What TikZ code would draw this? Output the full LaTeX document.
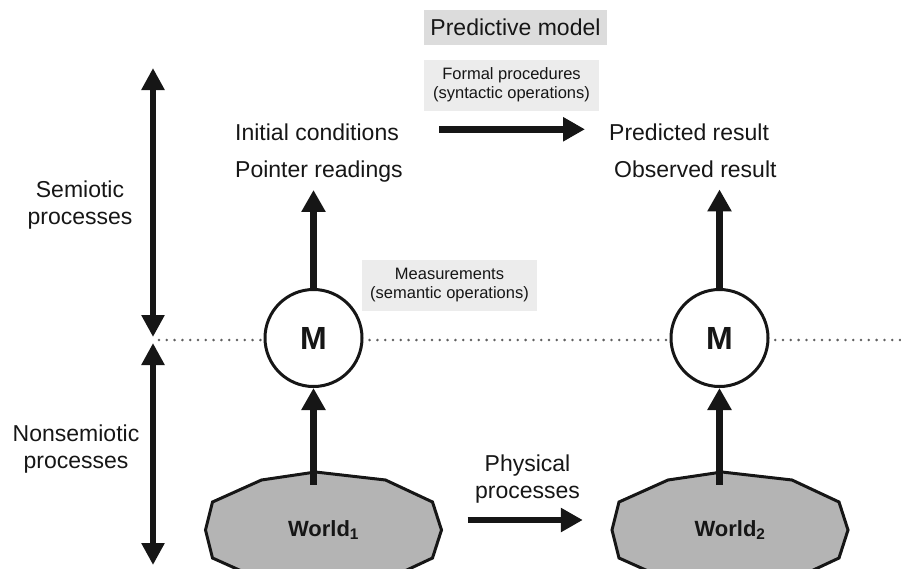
\documentclass[tikz,border=0pt]{standalone}
\usepackage{fontspec}
\setmainfont{Liberation Sans}
\usetikzlibrary{arrows.meta}
\definecolor{worldfill}{HTML}{B4B4B4}
\definecolor{titlefill}{HTML}{DCDCDC}
\definecolor{notefill}{HTML}{ECECEC}
\definecolor{ink}{HTML}{161616}
\definecolor{dotgray}{HTML}{606060}
\begin{document}
\begin{tikzpicture}[x=1pt,y=-1pt,
  every node/.style={text=ink},
  bigtext/.style={font=\fontsize{23}{27}\selectfont, inner sep=0pt, align=center},
  titlebox/.style={font=\fontsize{23}{27}\selectfont, inner sep=0pt, fill=titlefill,
    minimum width=183pt, minimum height=35pt},
  notebox/.style={font=\fontsize{16.5}{19}\selectfont, align=center, inner sep=0pt,
    fill=notefill, minimum width=175pt, minimum height=51pt},
  flow/.style={draw=ink, line width=6.5pt, -{Triangle[width=23pt,length=22pt]}},
  span/.style={draw=ink, line width=5.5pt,
    {Triangle[width=22pt,length=22pt]}-{Triangle[width=22pt,length=22pt]}},
  dotline/.style={draw=dotgray, line width=2.8pt, line cap=round,
    dash pattern=on 0pt off 7.8pt},
  meter/.style={circle, draw=ink, line width=3pt, fill=white, minimum size=97pt,
    inner sep=0pt, font=\bfseries\fontsize{32}{32}\selectfont},
  worldpoly/.style={draw=ink, line width=3pt, fill=worldfill, line join=miter},
  worldlabel/.style={font=\bfseries\fontsize{22}{24}\selectfont, inner sep=0pt,
    minimum width=236pt, minimum height=116pt},
]
\clip (0,0) rectangle (901,568);

% scale arrows on the left and the boundary between the two regimes
\coordinate (semtop) at (153,68);
\coordinate (semend) at (153,337);
\coordinate (nonend) at (153,343);
\coordinate (nonbot) at (153,565);
\coordinate (dotstart) at (159,340);
\coordinate (dotend) at (905,340);
\draw[span] (semtop) -- (semend);
\draw[span] (nonend) -- (nonbot);
\draw[dotline] (dotstart) -- (dotend);

\node[bigtext] (semio) at (80,205.5) {Semiotic\\processes};
\node[bigtext] (nonsemio) at (76,449.5) {Nonsemiotic\\processes};

% titles and notes
\node[titlebox] (model) at (515.5,27.5) {Predictive model};
\node[notebox] (formal) at (511.5,85) {Formal procedures\\(syntactic operations)};
\node[notebox] (meas) at (449.5,285) {Measurements\\(semantic operations)};

% symbolic side
\node[bigtext, anchor=base west] (ic) at (235,140) {Initial conditions};
\node[bigtext, anchor=base west] (pr) at (235,177) {Pointer readings};
\node[bigtext, anchor=base west] (pred) at (609,140) {Predicted result};
\node[bigtext, anchor=base west] (obs) at (614,177) {Observed result};

% measuring devices
\node[meter] (m1) at (313.5,338) {M};
\node[meter] (m2) at (719.5,338) {M};

% the two world states
\coordinate (c1) at (323.5,530);
\coordinate (c2) at (730,530);
\foreach \c in {c1,c2}{
  \draw[worldpoly, shift={(\c)}]
    (118,0) -- (109,-28) -- (62,-50) -- (-8,-58) -- (-62,-50) -- (-111,-28)
    -- (-118,0) -- (-111,28) -- (-62,50) -- (0,58) -- (62,50) -- (109,28) -- cycle;
}
\node[worldlabel] (w1) at (c1) {World\textsubscript{1}};
\node[worldlabel] (w2) at (c2) {World\textsubscript{2}};

\node[bigtext] (phys) at (527.5,479.5) {Physical\\processes};

% connectors
\draw[flow, shorten <=40pt, shorten >=24pt]
  ([yshift=2.5pt]ic.east) -- ([yshift=2.5pt]ic.east -| pred.west);
\draw[flow, shorten <=26pt, shorten >=29pt]
  ([yshift=10pt]w1.east) -- ([yshift=10pt]w2.west);
\draw[flow, shorten <=-13pt] (m1 |- w1.north) -- (m1.south);
\draw[flow, shorten <=-13pt] (m2 |- w2.north) -- (m2.south);
\draw[flow, shorten >=8pt] (m1.north) -- (m1 |- pr.south);
\draw[flow, shorten >=12pt] (m2.north) -- (m2 |- obs.south);
\end{tikzpicture}
\end{document}
